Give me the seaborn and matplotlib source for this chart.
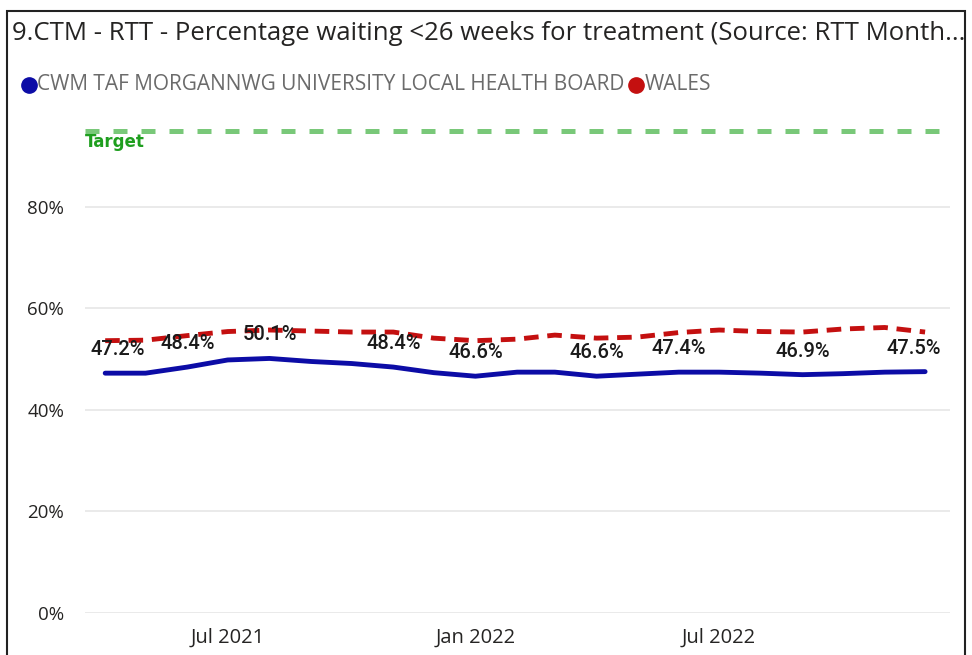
import matplotlib
matplotlib.use("Agg")
import matplotlib.pyplot as plt
from matplotlib.patches import Rectangle
from matplotlib.lines import Line2D
import seaborn as sns
import pandas as pd

# ---- data ----
months = pd.date_range("2021-04-01", periods=21, freq="MS")
ctm = [47.2, 47.2, 48.4, 49.8, 50.1, 49.5, 49.1, 48.4, 47.3, 46.6, 47.4, 47.4,
       46.6, 47.0, 47.4, 47.4, 47.2, 46.9, 47.1, 47.4, 47.5]
wales = [53.6, 53.7, 54.6, 55.4, 55.7, 55.5, 55.3, 55.3, 54.1, 53.6, 53.9, 54.7,
         54.1, 54.3, 55.2, 55.7, 55.4, 55.3, 55.9, 56.2, 55.3]
label_idx = [0, 2, 4, 7, 9, 12, 14, 17, 20]
target = 95
series_names = ["CWM TAF MORGANNWG UNIVERSITY LOCAL HEALTH BOARD", "WALES"]
title = "9.CTM - RTT - Percentage waiting <26 weeks for treatment (Source: RTT Month..."
yticks = [0, 20, 40, 60, 80]
xticks = ["2021-07-01", "2022-01-01", "2022-07-01"]
xtick_labels = ["Jul 2021", "Jan 2022", "Jul 2022"]

df = pd.DataFrame({"month": list(months) * 2,
                   "value": ctm + wales,
                   "series": [series_names[0]] * 21 + [series_names[1]] * 21})

sns.set_theme(style="white")
plt.rcParams["font.family"] = ["Open Sans", "DejaVu Sans"]

W, H = 972, 655
fig = plt.figure(figsize=(W / 100, H / 100), dpi=100)
ax_l, ax_r, ax_t, ax_b = 85, 950, 105.2, 612.7
ax = fig.add_axes([ax_l / W, 1 - ax_b / H, (ax_r - ax_l) / W, (ax_b - ax_t) / H])

blue = "#0c0ca6"
red = "#c41010"
sns.lineplot(data=df, x="month", y="value", hue="series", style="series",
             palette={series_names[0]: blue, series_names[1]: red},
             dashes={series_names[0]: "", series_names[1]: (3, 1.8)},
             linewidth=3.5, legend=False, ax=ax)

ax.axhline(target, color="#79c879", linewidth=3.6, linestyle=(0, (2.8, 2.8)))
ax.text(0.0, target - 0.5, "Target", color="#1e9e1e", fontsize=12,
        fontweight="bold", va="top", ha="left", transform=ax.get_yaxis_transform(),
        family=["DejaVu Sans"])

ax.set_ylim(0, 100)
ax.set_xlim(months[0] - pd.Timedelta(days=15), months[-1] + pd.Timedelta(days=18.5))
ax.set_yticks(yticks)
ax.set_yticklabels([f"{v}%" for v in yticks])
ax.set_xticks(pd.to_datetime(xticks))
ax.set_xticklabels(xtick_labels)
ax.tick_params(axis="y", labelsize=13.5, labelcolor="#252423", pad=15, length=0)
ax.tick_params(axis="x", labelsize=14.5, labelcolor="#252423", pad=11, length=0)
ax.grid(axis="y", color="#e6e6e6", linewidth=1.2)
ax.grid(axis="x", visible=False)
for s in ax.spines.values():
    s.set_visible(False)
ax.set_xlabel("")
ax.set_ylabel("")

for k, i in enumerate(label_idx):
    dx = 0
    if k == 0:
        dx = 9
    elif k == len(label_idx) - 1:
        dx = -8
    ax.annotate(f"{ctm[i]:.1f}%", (months[i], ctm[i]), xytext=(dx, 17),
                textcoords="offset points", ha="center", va="center",
                fontsize=14.5, color="#1a1a1a", fontweight="medium",
                family=["Roboto", "DejaVu Sans"])

# title & legend
fig.text(12 / W, 1 - 33 / H, title, fontsize=18.5, color="#252423", va="center", ha="left")
ly = 1 - 85 / H
fig.add_artist(Line2D([29 / W], [ly], marker="o", markersize=11,
                      color=blue, linestyle="none", transform=fig.transFigure))
t1 = fig.text(37 / W, ly, series_names[0], fontsize=15, color="#6b6b6b",
              va="center", ha="left")
fig.canvas.draw()
bb = t1.get_window_extent()
x_end = bb.x1
fig.add_artist(Line2D([(x_end + 12) / W], [ly], marker="o", markersize=11,
                      color=red, linestyle="none", transform=fig.transFigure))
fig.text((x_end + 20) / W, ly, series_names[1], fontsize=15, color="#6b6b6b",
         va="center", ha="left")

# border
fig.add_artist(Rectangle((7 / W, -0.05), (965 - 7) / W, 1.05 - 11 / H + 0.0,
                         transform=fig.transFigure, fill=False,
                         edgecolor="#222222", linewidth=1.5))

fig.savefig("out.png", dpi=100)
